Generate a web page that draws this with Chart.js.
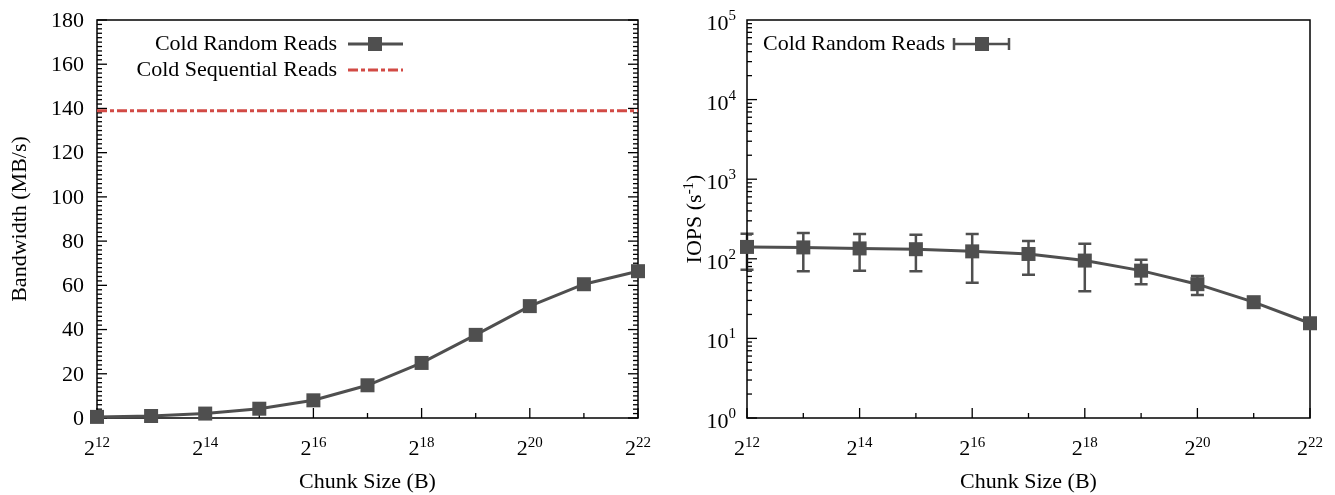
<!DOCTYPE html>
<html><head><meta charset="utf-8">
<script src="https://cdn.jsdelivr.net/npm/chart.js@4.4.1/dist/chart.umd.min.js"></script>
<style>
html,body{margin:0;padding:0;background:#fff;}
#wrap{position:relative;width:1335px;height:495px;overflow:hidden;}
.c{position:absolute;top:0;height:495px;}
</style></head><body>
<div id="wrap">
<div class="c" style="left:0;width:667px"><canvas id="left"></canvas></div>
<div class="c" style="left:667px;width:668px"><canvas id="right"></canvas></div>
</div>
<script>
// ---- data ----
const chunkExp = [12, 13, 14, 15, 16, 17, 18, 19, 20, 21, 22];
const randomBandwidth = [0.5, 0.9, 2.0, 4.2, 8.0, 14.8, 24.9, 37.6, 50.6, 60.5, 66.4];
const sequentialBandwidth = 139;
const randomIops = [141, 139, 135, 132, 124, 115, 95, 71, 48, 28.5, 15.5];
const iopsLow = [73, 70, 71, 70, 50, 63, 39, 48, 35, 26, 14.5];
const iopsHigh = [207, 211, 205, 201, 205, 167, 155, 97, 61, 31, 16.5];
const xTickExps = [12, 14, 16, 18, 20, 22];
const leftYTicks = [0, 20, 40, 60, 80, 100, 120, 140, 160, 180];
const rightYTickExps = [0, 1, 2, 3, 4, 5];
const seriesLabels = ['Cold Random Reads', 'Cold Sequential Reads'];
const xTitle = 'Chunk Size (B)';
const leftYTitle = 'Bandwidth (MB/s)';

// ---- styles ----
const FONT = '"Liberation Serif", "Times New Roman", serif';
const FS = 22, SFS = 15;
const GRAY = '#4f4f4f';
const RED = '#d24a45';
const SQ = 14;

function supText(ctx, base, exp, x, y, align, raise) {
  ctx.font = FS + 'px ' + FONT;
  const wb = ctx.measureText(base).width;
  ctx.font = SFS + 'px ' + FONT;
  const we = ctx.measureText(exp).width;
  const total = wb + we;
  let sx = align === 'center' ? x - total / 2 : (align === 'right' ? x - total : x);
  ctx.textAlign = 'left';
  ctx.textBaseline = 'alphabetic';
  ctx.font = FS + 'px ' + FONT;
  ctx.fillText(base, sx, y);
  ctx.font = SFS + 'px ' + FONT;
  ctx.fillText(exp, sx + wb, y - raise);
}

function drawSquare(ctx, x, y, s) {
  ctx.fillStyle = GRAY;
  ctx.fillRect(x - s / 2, y - s / 2, s, s);
}

const framePlugin = {
  id: 'frame',
  beforeDatasetsDraw(chart, args, opts) {
    const {ctx, chartArea: a, scales} = chart;
    ctx.save();
    ctx.strokeStyle = '#000';
    ctx.lineWidth = 1.3;
    for (let e = 12; e <= 22; e++) {
      const px = scales.x.getPixelForValue(e);
      const len = e % 2 === 0 ? 10 : 5;
      ctx.beginPath(); ctx.moveTo(px, a.bottom); ctx.lineTo(px, a.bottom - len); ctx.stroke();
    }
    if (opts.kind === 'linear') {
      for (let v = 0; v <= 180; v += 2) {
        const py = scales.y.getPixelForValue(v);
        const len = v % 20 === 0 ? 10 : 5;
        ctx.beginPath(); ctx.moveTo(a.left, py); ctx.lineTo(a.left + len, py); ctx.stroke();
        ctx.beginPath(); ctx.moveTo(a.right, py); ctx.lineTo(a.right - len, py); ctx.stroke();
      }
    } else {
      for (let n = 0; n <= 4; n++) {
        for (let m = 1; m <= 9; m++) {
          const py = scales.y.getPixelForValue(m * Math.pow(10, n));
          const len = m === 1 ? 10 : 5;
          ctx.beginPath(); ctx.moveTo(a.left, py); ctx.lineTo(a.left + len, py); ctx.stroke();
        }
      }
      ctx.strokeStyle = GRAY;
      ctx.lineWidth = 2.5;
      chunkExp.forEach((e, i) => {
        const px = scales.x.getPixelForValue(e);
        const yl = scales.y.getPixelForValue(iopsLow[i]);
        const yh = scales.y.getPixelForValue(iopsHigh[i]);
        ctx.beginPath();
        ctx.moveTo(px, yl); ctx.lineTo(px, yh);
        ctx.moveTo(px - 6.5, yl); ctx.lineTo(px + 6.5, yl);
        ctx.moveTo(px - 6.5, yh); ctx.lineTo(px + 6.5, yh);
        ctx.stroke();
      });
    }
    ctx.strokeStyle = '#000';
    ctx.lineWidth = 1.5;
    ctx.strokeRect(a.left, a.top, a.right - a.left, a.bottom - a.top);
    ctx.restore();
  },
  afterDraw(chart, args, opts) {
    const {ctx, chartArea: a, scales} = chart;
    ctx.save();
    ctx.fillStyle = '#000';
    xTickExps.forEach(e => {
      const px = scales.x.getPixelForValue(e);
      supText(ctx, '2', String(e), px, 455, 'center', 8);
    });
    ctx.font = FS + 'px ' + FONT;
    ctx.textAlign = 'center'; ctx.textBaseline = 'middle';
    ctx.fillText(xTitle, (a.left + a.right) / 2, 482);
    const cy = (a.top + a.bottom) / 2;
    if (opts.kind === 'linear') {
      ctx.font = FS + 'px ' + FONT;
      ctx.textAlign = 'right'; ctx.textBaseline = 'middle';
      leftYTicks.forEach(v => {
        ctx.fillText(String(v), a.left - 13, scales.y.getPixelForValue(v) + 1);
      });
      ctx.save();
      ctx.translate(20, cy); ctx.rotate(-Math.PI / 2);
      ctx.textAlign = 'center'; ctx.textBaseline = 'middle';
      ctx.fillText(leftYTitle, 0, 0);
      ctx.restore();
      ctx.font = FS + 'px ' + FONT;
      ctx.textAlign = 'right'; ctx.textBaseline = 'middle';
      ctx.fillStyle = '#000';
      ctx.fillText(seriesLabels[0], 337, 44);
      ctx.fillText(seriesLabels[1], 337, 70);
      ctx.strokeStyle = GRAY; ctx.lineWidth = 3;
      ctx.beginPath(); ctx.moveTo(348, 44); ctx.lineTo(403, 44); ctx.stroke();
      drawSquare(ctx, 375, 44, SQ);
      ctx.strokeStyle = RED; ctx.lineWidth = 3;
      ctx.setLineDash([10, 3, 4, 3]);
      ctx.beginPath(); ctx.moveTo(348, 70); ctx.lineTo(403, 70); ctx.stroke();
      ctx.setLineDash([]);
    } else {
      ctx.fillStyle = '#000';
      rightYTickExps.forEach(n => {
        const py = scales.y.getPixelForValue(Math.pow(10, n));
        supText(ctx, '10', String(n), a.left - 11, py + 10, 'right', 10);
      });
      ctx.save();
      ctx.translate(27, cy); ctx.rotate(-Math.PI / 2);
      ctx.font = FS + 'px ' + FONT;
      const p1 = 'IOPS (s', p2 = '-1', p3 = ')';
      const w1 = ctx.measureText(p1).width, w3 = ctx.measureText(p3).width;
      ctx.font = SFS + 'px ' + FONT;
      const w2 = ctx.measureText(p2).width;
      const tot = w1 + w2 + w3;
      let sx = -tot / 2;
      ctx.textAlign = 'left'; ctx.textBaseline = 'alphabetic';
      ctx.font = FS + 'px ' + FONT;
      ctx.fillText(p1, sx, 7);
      ctx.font = SFS + 'px ' + FONT;
      ctx.fillText(p2, sx + w1, -1);
      ctx.font = FS + 'px ' + FONT;
      ctx.fillText(p3, sx + w1 + w2, 7);
      ctx.restore();
      ctx.font = FS + 'px ' + FONT;
      ctx.textAlign = 'left'; ctx.textBaseline = 'middle';
      ctx.fillText(seriesLabels[0], 96, 44);
      ctx.strokeStyle = GRAY; ctx.lineWidth = 2.5;
      ctx.beginPath();
      ctx.moveTo(287, 44); ctx.lineTo(342, 44);
      ctx.moveTo(287, 38); ctx.lineTo(287, 50);
      ctx.moveTo(342, 38); ctx.lineTo(342, 50);
      ctx.stroke();
      drawSquare(ctx, 315, 44, SQ);
    }
    ctx.restore();
  }
};

function pts(ys) { return chunkExp.map((e, i) => ({x: e, y: ys[i]})); }

const common = {
  responsive: true,
  maintainAspectRatio: false,
  animation: false,
  events: [],
  plugins: {legend: {display: false}, tooltip: {enabled: false}}
};

const PR = SQ / Math.SQRT2;

new Chart(document.getElementById('left'), {
  type: 'line',
  data: {
    datasets: [
      {
        label: seriesLabels[1],
        data: [{x: chunkExp[0], y: sequentialBandwidth}, {x: chunkExp[chunkExp.length - 1], y: sequentialBandwidth}],
        borderColor: RED, borderWidth: 3, borderDash: [10, 3, 4, 3],
        pointRadius: 0, clip: false
      },
      {
        label: seriesLabels[0],
        data: pts(randomBandwidth),
        borderColor: GRAY, borderWidth: 3,
        pointStyle: 'rect', pointRadius: PR, pointBackgroundColor: GRAY, pointBorderColor: GRAY, pointBorderWidth: 0,
        tension: 0, clip: false
      }
    ]
  },
  options: Object.assign({}, common, {
    layout: {padding: {left: 97, right: 29, top: 20, bottom: 77}},
    scales: {
      x: {type: 'linear', min: 12, max: 22, display: false},
      y: {type: 'linear', min: 0, max: 180, display: false}
    },
    plugins: Object.assign({}, common.plugins, {frame: {kind: 'linear'}})
  }),
  plugins: [framePlugin]
});

new Chart(document.getElementById('right'), {
  type: 'line',
  data: {
    datasets: [
      {
        label: seriesLabels[0],
        data: pts(randomIops),
        borderColor: GRAY, borderWidth: 3,
        pointStyle: 'rect', pointRadius: PR, pointBackgroundColor: GRAY, pointBorderColor: GRAY, pointBorderWidth: 0,
        tension: 0, clip: false
      }
    ]
  },
  options: Object.assign({}, common, {
    layout: {padding: {left: 80, right: 25, top: 20, bottom: 77}},
    scales: {
      x: {type: 'linear', min: 12, max: 22, display: false},
      y: {type: 'logarithmic', min: 1, max: 100000, display: false}
    },
    plugins: Object.assign({}, common.plugins, {frame: {kind: 'log'}})
  }),
  plugins: [framePlugin]
});
</script>
</body></html>
